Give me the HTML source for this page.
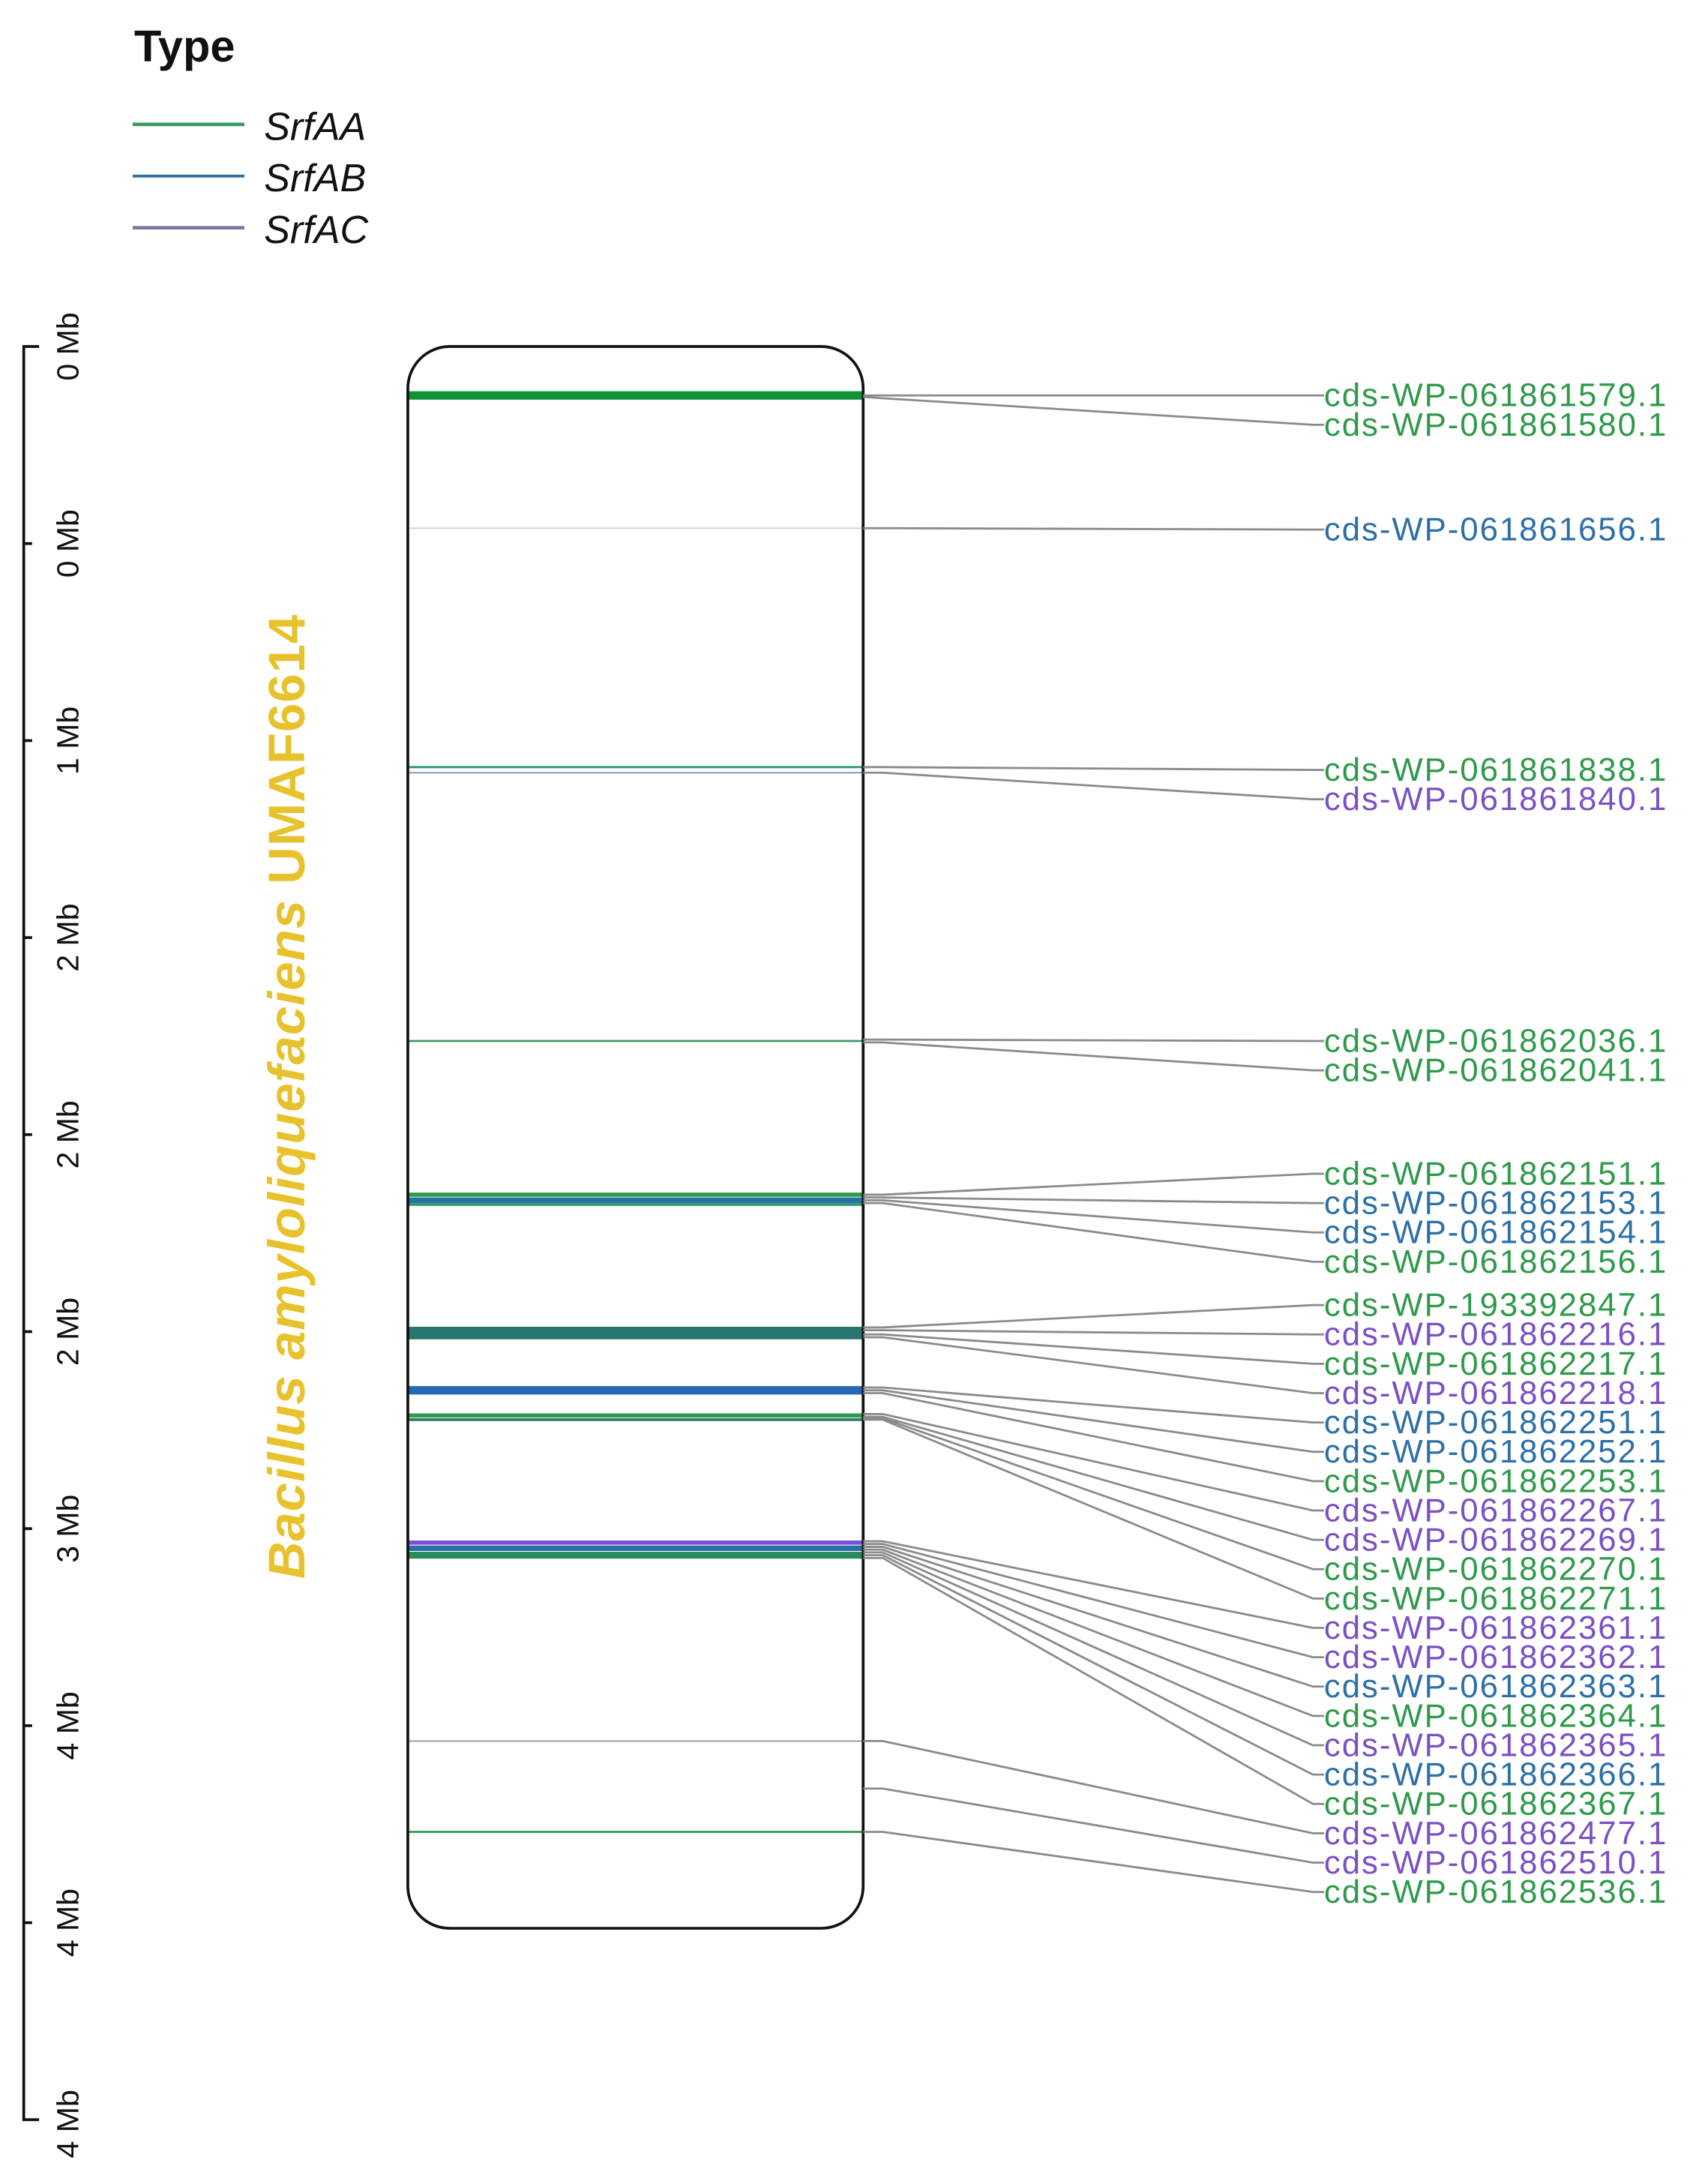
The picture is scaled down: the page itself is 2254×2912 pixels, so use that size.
<!DOCTYPE html>
<html><head><meta charset="utf-8"><style>
html,body{margin:0;padding:0;background:#fff;}
svg{display:block;}
text{font-family:"Liberation Sans",Arial,sans-serif;}
.l{font-size:23.5px;}
.A{fill:#2e9a4a}.B{fill:#2c70a8}.C{fill:#7b50c6}
.ax{font-size:22px;fill:#111}
</style></head><body>
<svg width="2254" height="2912" viewBox="0 0 1210 1563" preserveAspectRatio="none" xmlns="http://www.w3.org/2000/svg">
<rect width="1210" height="1563" fill="#fff"/>
<text x="96" y="44" font-size="32" font-weight="bold" fill="#111">Type</text>
<line x1="95" y1="89" x2="175" y2="89" stroke="#3a9a5e" stroke-width="2.5"/>
<line x1="95" y1="126" x2="175" y2="126" stroke="#2c70a8" stroke-width="2"/>
<line x1="95" y1="163" x2="175" y2="163" stroke="#7a78a0" stroke-width="2.5"/>
<text x="189" y="100" font-size="28" font-style="italic" fill="#111">SrfAA</text>
<text x="189" y="137" font-size="28" font-style="italic" fill="#111">SrfAB</text>
<text x="189" y="174" font-size="28" font-style="italic" fill="#111">SrfAC</text>

<g stroke="#111" stroke-width="2" fill="none">
<polyline points="28,248 17,248 17,1517 28,1517"/>
<line x1="17" y1="389" x2="23" y2="389"/><line x1="17" y1="530" x2="23" y2="530"/>
<line x1="17" y1="671" x2="23" y2="671"/><line x1="17" y1="812" x2="23" y2="812"/>
<line x1="17" y1="953" x2="23" y2="953"/><line x1="17" y1="1094" x2="23" y2="1094"/>
<line x1="17" y1="1235" x2="23" y2="1235"/><line x1="17" y1="1376" x2="23" y2="1376"/>
</g>
<g class="ax" text-anchor="middle">
<text transform="translate(56,248) rotate(-90)">0 Mb</text>
<text transform="translate(56,389) rotate(-90)">0 Mb</text>
<text transform="translate(56,530) rotate(-90)">1 Mb</text>
<text transform="translate(56,671) rotate(-90)">2 Mb</text>
<text transform="translate(56,812) rotate(-90)">2 Mb</text>
<text transform="translate(56,953) rotate(-90)">2 Mb</text>
<text transform="translate(56,1094) rotate(-90)">3 Mb</text>
<text transform="translate(56,1235) rotate(-90)">4 Mb</text>
<text transform="translate(56,1376) rotate(-90)">4 Mb</text>
<text transform="translate(56,1520) rotate(-90)">4 Mb</text>
</g>
<text transform="translate(218,785) rotate(-90)" text-anchor="middle" font-size="37" font-weight="bold" fill="#e8c22c" textLength="690"><tspan font-style="italic">Bacillus amyloliquefaciens</tspan> UMAF6614</text>

<g stroke-width="3">
<line x1="292" y1="283" x2="618" y2="283" stroke="#119136" stroke-width="6"/>
<line x1="292" y1="378" x2="618" y2="378" stroke="#bcd6dc" stroke-width="1"/>
<line x1="292" y1="549" x2="618" y2="549" stroke="#2e9a6a" stroke-width="1.5"/>
<line x1="292" y1="553" x2="618" y2="553" stroke="#8a8ab8" stroke-width="1"/>
<line x1="292" y1="745" x2="618" y2="745" stroke="#3a9a6a" stroke-width="1.5"/>
<line x1="292" y1="855" x2="618" y2="855" stroke="#2e9a4a" stroke-width="3"/>
<line x1="292" y1="859" x2="618" y2="859" stroke="#2c70a8" stroke-width="4"/>
<line x1="292" y1="862" x2="618" y2="862" stroke="#2e9a6a" stroke-width="2"/>
<line x1="292" y1="954" x2="618" y2="954" stroke="#2a7670" stroke-width="9"/>
<line x1="292" y1="995" x2="618" y2="995" stroke="#2468b8" stroke-width="6"/>
<line x1="292" y1="1013" x2="618" y2="1013" stroke="#2e9a4a" stroke-width="3"/>
<line x1="292" y1="1016" x2="618" y2="1016" stroke="#2e7a6a" stroke-width="2"/>
<line x1="292" y1="1104" x2="618" y2="1104" stroke="#7b50d6" stroke-width="3"/>
<line x1="292" y1="1108" x2="618" y2="1108" stroke="#2c70a8" stroke-width="4"/>
<line x1="292" y1="1113" x2="618" y2="1113" stroke="#2a8a5a" stroke-width="5"/>
<line x1="292" y1="1246" x2="618" y2="1246" stroke="#999" stroke-width="1"/>
<line x1="292" y1="1311" x2="618" y2="1311" stroke="#2e9a4a" stroke-width="1.5"/>
</g>
<rect x="292" y="248" width="326" height="1132" rx="30" ry="30" fill="none" stroke="#111" stroke-width="2"/>

<g stroke="#8a8a8a" stroke-width="1.5" fill="none">
<polyline points="618,283 632,283 940,283 948,283"/>
<polyline points="618,284 632,285 940,304 948,304"/>
<polyline points="618,378 632,378 940,379 948,379"/>
<polyline points="618,549 632,549 940,551 948,551"/>
<polyline points="618,553 632,553 940,572 948,572"/>
<polyline points="618,744 632,744 940,745 948,745"/>
<polyline points="618,746 632,746 940,766 948,766"/>
<polyline points="618,855 632,855 940,840 948,840"/>
<polyline points="618,857 632,857 940,861 948,861"/>
<polyline points="618,859 632,859 940,882 948,882"/>
<polyline points="618,861 632,861 940,903 948,903"/>
<polyline points="618,950 632,950 940,934 948,934"/>
<polyline points="618,952 632,952 940,955 948,955"/>
<polyline points="618,955 632,955 940,976 948,976"/>
<polyline points="618,957 632,957 940,997 948,997"/>
<polyline points="618,993 632,993 940,1018 948,1018"/>
<polyline points="618,995 632,995 940,1039 948,1039"/>
<polyline points="618,997 632,997 940,1060 948,1060"/>
<polyline points="618,1012 632,1012 940,1081 948,1081"/>
<polyline points="618,1014 632,1014 940,1102 948,1102"/>
<polyline points="618,1015 632,1015 940,1123 948,1123"/>
<polyline points="618,1016 632,1016 940,1144 948,1144"/>
<polyline points="618,1103 632,1103 940,1165 948,1165"/>
<polyline points="618,1105 632,1105 940,1186 948,1186"/>
<polyline points="618,1107 632,1107 940,1207 948,1207"/>
<polyline points="618,1109 632,1109 940,1228 948,1228"/>
<polyline points="618,1111 632,1111 940,1249 948,1249"/>
<polyline points="618,1113 632,1113 940,1270 948,1270"/>
<polyline points="618,1115 632,1115 940,1291 948,1291"/>
<polyline points="618,1246 632,1246 940,1312 948,1312"/>
<polyline points="618,1280 632,1280 940,1333 948,1333"/>
<polyline points="618,1311 632,1311 940,1354 948,1354"/>
</g>

<g class="l" dominant-baseline="central">
<text x="948" y="283" class="A" textLength="245">cds-WP-061861579.1</text>
<text x="948" y="304" class="A" textLength="245">cds-WP-061861580.1</text>
<text x="948" y="379" class="B" textLength="245">cds-WP-061861656.1</text>
<text x="948" y="551" class="A" textLength="245">cds-WP-061861838.1</text>
<text x="948" y="572" class="C" textLength="245">cds-WP-061861840.1</text>
<text x="948" y="745" class="A" textLength="245">cds-WP-061862036.1</text>
<text x="948" y="766" class="A" textLength="245">cds-WP-061862041.1</text>
<text x="948" y="840" class="A" textLength="245">cds-WP-061862151.1</text>
<text x="948" y="861" class="B" textLength="245">cds-WP-061862153.1</text>
<text x="948" y="882" class="B" textLength="245">cds-WP-061862154.1</text>
<text x="948" y="903" class="A" textLength="245">cds-WP-061862156.1</text>
<text x="948" y="934" class="A" textLength="245">cds-WP-193392847.1</text>
<text x="948" y="955" class="C" textLength="245">cds-WP-061862216.1</text>
<text x="948" y="976" class="A" textLength="245">cds-WP-061862217.1</text>
<text x="948" y="997" class="C" textLength="245">cds-WP-061862218.1</text>
<text x="948" y="1018" class="B" textLength="245">cds-WP-061862251.1</text>
<text x="948" y="1039" class="B" textLength="245">cds-WP-061862252.1</text>
<text x="948" y="1060" class="A" textLength="245">cds-WP-061862253.1</text>
<text x="948" y="1081" class="C" textLength="245">cds-WP-061862267.1</text>
<text x="948" y="1102" class="C" textLength="245">cds-WP-061862269.1</text>
<text x="948" y="1123" class="A" textLength="245">cds-WP-061862270.1</text>
<text x="948" y="1144" class="A" textLength="245">cds-WP-061862271.1</text>
<text x="948" y="1165" class="C" textLength="245">cds-WP-061862361.1</text>
<text x="948" y="1186" class="C" textLength="245">cds-WP-061862362.1</text>
<text x="948" y="1207" class="B" textLength="245">cds-WP-061862363.1</text>
<text x="948" y="1228" class="A" textLength="245">cds-WP-061862364.1</text>
<text x="948" y="1249" class="C" textLength="245">cds-WP-061862365.1</text>
<text x="948" y="1270" class="B" textLength="245">cds-WP-061862366.1</text>
<text x="948" y="1291" class="A" textLength="245">cds-WP-061862367.1</text>
<text x="948" y="1312" class="C" textLength="245">cds-WP-061862477.1</text>
<text x="948" y="1333" class="C" textLength="245">cds-WP-061862510.1</text>
<text x="948" y="1354" class="A" textLength="245">cds-WP-061862536.1</text>
</g>
</svg>
</body></html>
